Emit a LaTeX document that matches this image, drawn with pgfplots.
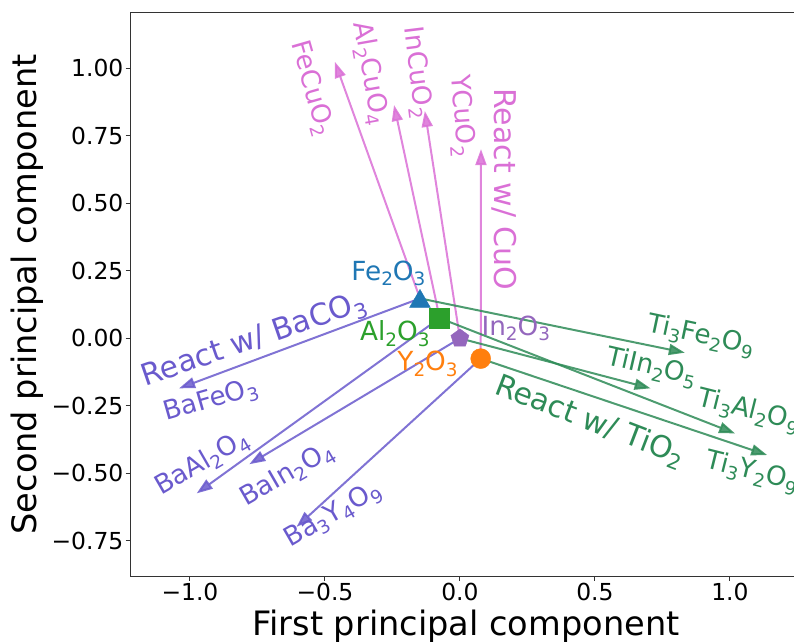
\documentclass[border=0pt]{standalone}
\usepackage{fontspec}
\setmainfont{DejaVu Sans}
\usepackage{graphicx}
\usepackage{pgfplots}
\pgfplotsset{compat=1.18}
\usetikzlibrary{arrows.meta}
\definecolor{orchidc}{RGB}{218,112,214}
\definecolor{slateb}{RGB}{106,90,205}
\definecolor{seag}{RGB}{46,139,87}
\definecolor{tabblue}{RGB}{31,119,180}
\definecolor{taborange}{RGB}{255,127,14}
\definecolor{tabgreen}{RGB}{44,160,44}
\definecolor{tabpurple}{RGB}{148,103,189}
\newcommand{\sub}[1]{\raisebox{-0.22em}{\scalebox{0.7}{#1}}}
\newcommand{\fs}[1]{\fontsize{#1}{#1}\selectfont}
\begin{document}
\begin{tikzpicture}
\begin{axis}[
  at={(130pt,66pt)}, anchor=south west,
  scale only axis, width=672pt, height=563pt,
  xmin=-1.222, xmax=1.267, ymin=-0.880, ymax=1.205,
  clip=false,
  axis line style={black!80, line width=1pt},
  tick align=outside, major tick length=4.5pt,
  tick style={black!80, line width=1pt},
  xtick pos=bottom, ytick pos=left,
  xtick={-1,-0.5,0,0.5,1}, xticklabels={−1.0,−0.5,0.0,0.5,1.0},
  ytick={-0.75,-0.5,-0.25,0,0.25,0.5,0.75,1},
  yticklabels={−0.75,−0.50,−0.25,0.00,0.25,0.50,0.75,1.00},
  ticklabel style={font=\fs{23.4}, inner sep=2pt},
  xlabel={First principal component}, ylabel={Second principal component},
  every axis x label/.style={at={(rel axis cs:0.5,0)}, anchor=base, yshift=-59pt, font=\fs{33.6}},
  every axis y label/.style={at={(rel axis cs:0,0.5)}, xshift=-93pt, rotate=90, anchor=base, font=\fs{33.6}},
  arr/.style={line width=2pt, opacity=0.85, -{Triangle[length=16pt,width=11pt]}},
]
% React w/ CuO
\addplot[orchidc, arr] coordinates {(-0.148,0.148) (-0.463,1.024)};
\addplot[orchidc, arr] coordinates {(-0.075,0.075) (-0.244,0.864)};
\addplot[orchidc, arr] coordinates {(0,0) (-0.130,0.842)};
\addplot[orchidc, arr] coordinates {(0.077,-0.075) (0.078,0.701)};
% React w/ BaCO3
\addplot[slateb, arr] coordinates {(-0.148,0.148) (-1.040,-0.185)};
\addplot[slateb, arr] coordinates {(-0.075,0.075) (-0.975,-0.574)};
\addplot[slateb, arr] coordinates {(0,0) (-0.780,-0.466)};
\addplot[slateb, arr] coordinates {(0.077,-0.075) (-0.605,-0.698)};
% React w/ TiO2
\addplot[seag, arr] coordinates {(-0.148,0.148) (0.833,-0.053)};
\addplot[seag, arr] coordinates {(0,0) (0.706,-0.185)};
\addplot[seag, arr] coordinates {(-0.075,0.075) (1.019,-0.352)};
\addplot[seag, arr] coordinates {(0.077,-0.075) (1.138,-0.432)};
% precursors
\addplot[only marks, mark=triangle*, mark size=12pt, color=tabblue, every mark/.append style={yshift=-3pt}] coordinates {(-0.148,0.148)};
\addplot[only marks, mark=square*, mark size=10pt, color=tabgreen] coordinates {(-0.075,0.075)};
\addplot[only marks, mark=pentagon*, mark size=9.5pt, color=tabpurple] coordinates {(0,0)};
\addplot[only marks, mark=*, mark size=10pt, color=taborange] coordinates {(0.077,-0.075)};
% labels
\node[tabblue, font=\fs{26.3}] at (axis cs:-0.265,0.241) {Fe\sub{2}O\sub{3}};
\node[tabgreen, font=\fs{26.3}] at (axis cs:-0.241,0.018) {Al\sub{2}O\sub{3}};
\node[tabpurple, font=\fs{26.3}] at (axis cs:0.207,0.037) {In\sub{2}O\sub{3}};
\node[taborange, font=\fs{26.3}] at (axis cs:-0.120,-0.093) {Y\sub{2}O\sub{3}};
\node[orchidc, font=\fs{26.3}, rotate=-74] at (axis cs:-0.550,0.925) {FeCuO\sub{2}};
\node[orchidc, font=\fs{26.3}, rotate=-80] at (axis cs:-0.333,0.981) {Al\sub{2}CuO\sub{4}};
\node[orchidc, font=\fs{26.3}, rotate=-83] at (axis cs:-0.160,0.984) {InCuO\sub{2}};
\node[orchidc, font=\fs{26.3}, rotate=-86] at (axis cs:0.006,0.824) {YCuO\sub{2}};
\node[orchidc, font=\fs{30}, rotate=-90] at (axis cs:0.164,0.552) {React w/ CuO};
\node[slateb, font=\fs{30}, rotate=19] at (axis cs:-0.762,-0.009) {React w/ BaCO\sub{3}};
\node[slateb, font=\fs{26.3}, rotate=16] at (axis cs:-0.923,-0.232) {BaFeO\sub{3}};
\node[slateb, font=\fs{26.3}, rotate=30] at (axis cs:-0.954,-0.463) {BaAl\sub{2}O\sub{4}};
\node[slateb, font=\fs{26.3}, rotate=30] at (axis cs:-0.639,-0.506) {BaIn\sub{2}O\sub{4}};
\node[slateb, font=\fs{26.3}, rotate=30] at (axis cs:-0.470,-0.654) {Ba\sub{3}Y\sub{4}O\sub{9}};
\node[seag, font=\fs{30}, rotate=-21] at (axis cs:0.481,-0.309) {React w/ TiO\sub{2}};
\node[seag, font=\fs{26.3}, rotate=-12] at (axis cs:0.892,0.009) {Ti\sub{3}Fe\sub{2}O\sub{9}};
\node[seag, font=\fs{26.3}, rotate=-13] at (axis cs:0.710,-0.108) {TiIn\sub{2}O\sub{5}};
\node[seag, font=\fs{26.3}, rotate=-14] at (axis cs:1.070,-0.269) {Ti\sub{3}Al\sub{2}O\sub{9}};
\node[seag, font=\fs{26.3}, rotate=-14] at (axis cs:1.081,-0.495) {Ti\sub{3}Y\sub{2}O\sub{9}};
\end{axis}
\pgfresetboundingbox
\useasboundingbox (0,0) rectangle (794pt,642pt);
\end{tikzpicture}
\end{document}
